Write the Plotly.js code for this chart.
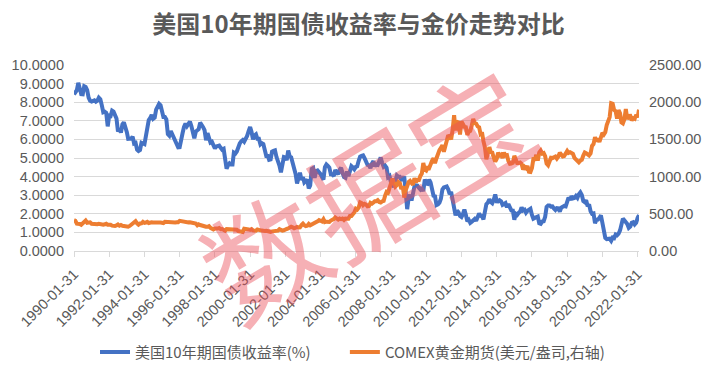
<!DOCTYPE html>
<html>
<head>
<meta charset="utf-8">
<script src="https://cdn.plot.ly/plotly-3.0.1.min.js"></script>
<style>html,body{margin:0;padding:0;background:#fff;}#chart{width:717px;height:375px;}</style>
</head>
<body>
<div id="chart"></div>
<script>
// Monthly data (month-end), starting 1990-01, ending 2022-02
const startYear = 1990;
const startMonth = 1;

// US 10-year Treasury yield (%)
const yield10y = [
  8.42,8.51,8.65,9.04,8.60,8.43,8.42,8.86,8.82,8.65,8.25,8.07, // 1990
  8.03,8.04,8.10,8.03,8.08,8.24,8.16,7.83,7.46,7.49,7.43,6.70, // 1991
  7.28,7.26,7.54,7.49,7.29,7.12,6.42,6.59,6.36,6.81,6.92,6.69, // 1992
  6.39,6.03,6.02,6.04,6.15,5.78,5.81,5.45,5.38,5.43,5.82,5.79, // 1993
  5.75,6.15,6.74,7.04,7.15,7.32,7.11,7.17,7.60,7.81,7.91,7.83, // 1994
  7.58,7.20,7.20,7.07,6.28,6.20,6.45,6.28,6.17,6.03,5.74,5.57, // 1995
  5.58,6.10,6.33,6.67,6.85,6.71,6.80,6.95,6.72,6.37,6.06,6.42, // 1996
  6.49,6.55,6.90,6.72,6.66,6.50,5.95,6.34,6.10,5.83,5.87,5.74, // 1997
  5.51,5.62,5.65,5.67,5.55,5.45,5.49,4.98,4.42,4.61,4.71,4.65, // 1998
  4.65,5.29,5.24,5.35,5.62,5.78,5.90,5.97,5.88,6.02,6.19,6.44, // 1999
  6.67,6.41,6.00,6.21,6.27,6.03,6.03,5.73,5.80,5.75,5.48,5.11, // 2000
  5.11,4.90,4.92,5.34,5.38,5.41,5.05,4.83,4.59,4.23,4.75,5.05, // 2001
  5.03,4.88,5.40,5.09,5.04,4.80,4.46,4.14,3.63,3.89,4.21,3.82, // 2002
  3.96,3.69,3.80,3.84,3.37,3.52,4.41,4.46,3.94,4.29,4.33,4.25, // 2003
  4.13,3.97,3.84,4.51,4.65,4.58,4.48,4.12,4.12,4.03,4.35,4.22, // 2004
  4.13,4.36,4.48,4.20,3.98,3.94,4.28,4.02,4.32,4.56,4.49,4.39, // 2005
  4.52,4.55,4.85,5.07,5.12,5.14,4.99,4.73,4.63,4.61,4.46,4.70, // 2006
  4.83,4.56,4.65,4.63,4.89,5.03,4.74,4.53,4.59,4.48,3.97,4.03, // 2007
  3.67,3.53,3.45,3.77,4.06,3.99,3.99,3.83,3.85,4.01,2.93,2.25, // 2008
  2.87,3.02,2.71,3.16,3.47,3.53,3.52,3.40,3.31,3.41,3.21,3.85, // 2009
  3.63,3.61,3.84,3.69,3.31,2.97,2.94,2.47,2.51,2.60,2.81,3.30, // 2010
  3.42,3.43,3.47,3.32,3.06,3.18,2.82,2.23,1.92,2.17,2.08,1.89, // 2011
  1.83,1.98,2.23,1.95,1.59,1.67,1.51,1.57,1.65,1.72,1.62,1.78, // 2012
  2.02,1.89,1.87,1.70,2.16,2.52,2.60,2.78,2.64,2.57,2.75,3.04, // 2013
  2.67,2.66,2.73,2.67,2.48,2.53,2.58,2.35,2.52,2.35,2.18,2.17, // 2014
  1.68,2.00,1.94,2.05,2.12,2.35,2.18,2.22,2.06,2.16,2.21,2.27, // 2015
  1.94,1.74,1.78,1.83,1.85,1.49,1.46,1.58,1.60,1.84,2.37,2.45, // 2016
  2.45,2.39,2.40,2.29,2.21,2.31,2.30,2.12,2.33,2.38,2.42,2.40, // 2017
  2.72,2.87,2.74,2.95,2.83,2.85,2.96,2.86,3.05,3.15,3.01,2.69, // 2018
  2.63,2.73,2.41,2.51,2.14,2.00,2.02,1.50,1.68,1.69,1.78,1.92, // 2019
  1.51,1.13,0.70,0.64,0.65,0.66,0.55,0.72,0.69,0.88,0.84,0.93, // 2020
  1.11,1.44,1.74,1.65,1.58,1.45,1.24,1.31,1.52,1.55,1.43,1.52, // 2021
  1.79,1.93                                                    // 2022
];

// COMEX gold futures (USD/oz, right axis)
const goldPrice = [
  415,407,368,368,363,352,372,387,408,380,384,386, // 1990
  367,363,356,357,361,367,362,347,355,359,366,353, // 1991
  354,353,341,337,337,343,357,340,349,339,334,333, // 1992
  330,327,337,355,375,377,401,372,355,369,371,391, // 1993
  377,381,391,376,386,385,384,385,394,389,383,383, // 1994
  375,376,392,389,385,387,383,383,384,383,387,387, // 1995
  405,400,396,392,390,382,385,387,379,379,371,369, // 1996
  345,358,349,340,345,334,326,325,333,311,296,290, // 1997
  302,297,301,309,293,296,288,273,294,292,294,288, // 1998
  287,287,280,286,268,261,255,255,299,300,292,290, // 1999
  284,293,277,274,273,290,277,278,274,265,270,273, // 2000
  265,267,258,264,266,271,266,274,293,279,275,279, // 2001
  282,296,302,309,327,318,305,313,324,317,318,348, // 2002
  368,348,335,339,364,346,355,376,386,384,398,416, // 2003
  402,397,427,388,394,395,391,409,418,429,452,438, // 2004
  422,436,428,436,417,436,430,434,470,470,495,518, // 2005
  569,557,584,655,645,616,634,625,600,605,647,636, // 2006
  652,669,669,683,659,651,667,673,743,795,783,838, // 2007
  928,972,916,866,886,928,914,833,870,718,817,884, // 2008
  928,942,924,891,979,927,955,955,1008,1040,1182,1096, // 2009
  1081,1118,1113,1179,1213,1245,1181,1247,1308,1357,1386,1421, // 2010
  1333,1410,1439,1556,1536,1500,1628,1825,1620,1725,1746,1566, // 2011
  1740,1710,1669,1664,1561,1604,1615,1687,1776,1719,1713,1675, // 2012
  1663,1578,1596,1476,1393,1234,1313,1396,1328,1323,1253,1202, // 2013
  1240,1321,1284,1296,1250,1322,1282,1287,1210,1172,1175,1184, // 2014
  1279,1213,1183,1182,1190,1172,1095,1132,1114,1142,1065,1061, // 2015
  1116,1234,1233,1291,1215,1322,1350,1309,1316,1275,1174,1152, // 2016
  1211,1253,1249,1268,1269,1242,1270,1322,1283,1271,1276,1309, // 2017
  1345,1318,1327,1316,1305,1253,1233,1206,1192,1215,1226,1282, // 2018
  1325,1316,1298,1285,1311,1413,1437,1529,1472,1513,1465,1523, // 2019
  1589,1566,1597,1694,1751,1800,1986,1978,1896,1879,1781,1895, // 2020
  1850,1729,1715,1768,1907,1771,1817,1818,1757,1784,1776,1829, // 2021
  1797,1900                                                     // 2022
];

const xTickLabels = ['1990-01-31','1992-01-31','1994-01-31','1996-01-31','1998-01-31',
  '2000-01-31','2002-01-31','2004-01-31','2006-01-31','2008-01-31','2010-01-31',
  '2012-01-31','2014-01-31','2016-01-31','2018-01-31','2020-01-31','2022-01-31'];

const seriesNames = ['美国10年期国债收益率(%)', 'COMEX黄金期货(美元/盎司,右轴)'];
const titleText = '美国10年期国债收益率与金价走势对比';
const watermarkText = '数据宝';

// month-end dates for each observation
function monthEnd(i) {
  const m0 = startMonth - 1 + i;
  const y = startYear + Math.floor(m0 / 12);
  const m = m0 % 12;
  const d = new Date(Date.UTC(y, m + 1, 0));
  return d.toISOString().slice(0, 10);
}
const dates = yield10y.map((_, i) => monthEnd(i));

const txtFont = 'Liberation Sans, Arial, "Noto Sans CJK SC", sans-serif';
const cjkFont = '"Noto Sans CJK SC", sans-serif';
const grey = '#595959';

const traces = [
  {x: dates, y: yield10y, name: seriesNames[0], type: 'scatter', mode: 'lines',
   line: {color: '#4472C4', width: 4}, yaxis: 'y', legend: 'legend'},
  {x: dates, y: goldPrice, name: seriesNames[1], type: 'scatter', mode: 'lines',
   line: {color: '#ED7D31', width: 4}, yaxis: 'y2', legend: 'legend2'}
];

const legendStyle = {
  orientation: 'h', xref: 'container', yref: 'container', xanchor: 'left',
  y: 0.061, yanchor: 'middle', font: {family: cjkFont, size: 15, color: grey},
  bgcolor: 'rgba(0,0,0,0)', borderwidth: 0
};

const layout = {
  width: 717, height: 375,
  margin: {l: 74, r: 78, t: 65, b: 124, pad: 0},
  paper_bgcolor: '#ffffff', plot_bgcolor: '#ffffff',
  showlegend: true,
  title: {text: titleText, x: 0.5, xref: 'container', xanchor: 'center',
          y: 0.935, yref: 'container', yanchor: 'middle',
          font: {family: cjkFont, size: 24, color: grey, weight: 'bold'}},
  xaxis: {type: 'date', range: [dates[0], dates[dates.length - 1]], automargin: false,
          tickmode: 'array', tickvals: xTickLabels, ticktext: xTickLabels,
          tickangle: -45, ticks: 'outside', ticklen: 5, tickcolor: '#D9D9D9',
          ticklabelstandoff: 3,
          showline: true, linecolor: '#D9D9D9', linewidth: 1, showgrid: false, zeroline: false,
          tickfont: {family: txtFont, size: 14.5, color: grey}},
  yaxis: {range: [0, 10], dtick: 1, tick0: 0, tickformat: '.4f', automargin: false,
          showgrid: true, gridcolor: '#D9D9D9', gridwidth: 1, zeroline: false, showline: false,
          ticks: '', ticklabelstandoff: 9, tickfont: {family: txtFont, size: 14.5, color: grey}},
  yaxis2: {range: [0, 2500], dtick: 500, tick0: 0, tickformat: '.2f', overlaying: 'y', side: 'right',
           automargin: false,
           showgrid: false, zeroline: false, showline: false, ticks: '', ticklabelstandoff: 9,
           tickfont: {family: txtFont, size: 14.5, color: grey}},
  legend: Object.assign({}, legendStyle, {x: 0.1325}),
  legend2: Object.assign({}, legendStyle, {x: 0.481}),
  annotations: [
    {text: watermarkText, xref: 'paper', yref: 'paper', x: 0.515, y: 0.33,
     xanchor: 'center', yanchor: 'middle', showarrow: false, textangle: -31,
     font: {family: cjkFont, size: 120, color: 'rgba(235,80,90,0.45)'}}
  ]
};

Plotly.newPlot('chart', traces, layout, {displayModeBar: false, staticPlot: true});
</script>
</body>
</html>
